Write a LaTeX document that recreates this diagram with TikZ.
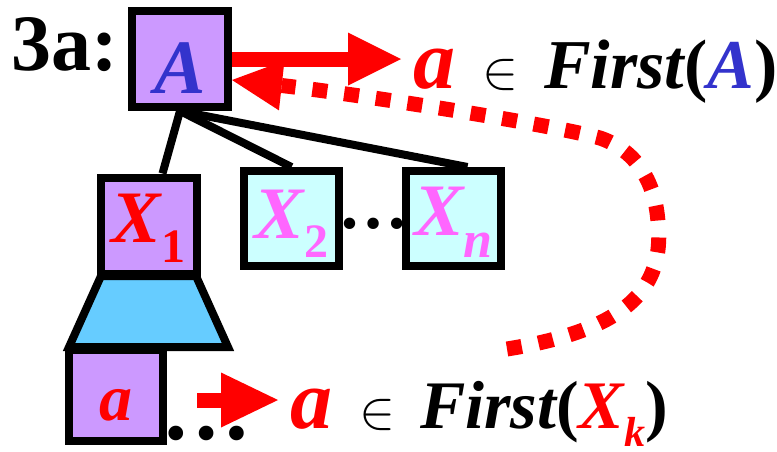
\documentclass[tikz,border=0pt]{standalone}
\usepackage{graphicx}
\usepackage{fontspec}
\setmainfont{Liberation Serif}
\usetikzlibrary{arrows.meta}
\definecolor{lav}{HTML}{CC99FF}
\definecolor{cyanl}{HTML}{CCFFFF}
\definecolor{trap}{HTML}{66CCFF}
\definecolor{blueA}{HTML}{3333CC}
\definecolor{mag}{HTML}{FF66FF}
\definecolor{redc}{HTML}{FF0000}
\newcommand{\fsz}[1]{\fontsize{#1}{#1}\selectfont}
\newcommand{\bi}{\bfseries\itshape}
\newcommand{\bigin}{\scalebox{5.4}{$\in$}}
\begin{document}
\begin{tikzpicture}[x=1pt,y=-1pt,
  box/.style={draw=black, line width=8pt, inner sep=0pt, minimum width=96pt, minimum height=96pt},
  edge/.style={line width=8pt},
  txt/.style={anchor=base west, inner sep=0pt, outer sep=0pt}]
\useasboundingbox (0,0) rectangle (777,451);
\node[txt, font=\bfseries\fsz{80}] (t3a) at (12,70) {3a:};
\draw[line width=8pt, fill=trap, line join=miter] (101,276) -- (196,276) -- (228,347) -- (69,347) -- cycle;
\node[box, fill=lav] (A) at (180,59) {\raisebox{-34pt}[0pt][0pt]{\color{blueA}\fsz{77}\bi A}};
\node[box, fill=lav] (X1) at (148.5,225.5) {\raisebox{-16.5pt}[0pt][0pt]{\color{redc}{\fsz{74}\bi X}\raisebox{-20pt}{\fsz{48}\bfseries 1}}};
\node[box, fill=cyanl, minimum width=95pt, minimum height=95pt] (X2) at (291.5,218.5) {\raisebox{-19.5pt}[0pt][0pt]{\color{mag}{\fsz{74}\bi X}\raisebox{-19pt}{\fsz{48}\bfseries 2}}};
\node[box, fill=cyanl, minimum width=95pt, minimum height=95pt] (Xn) at (453.5,218.5) {\raisebox{-17pt}[0pt][0pt]{\color{mag}{\fsz{74}\bi X}\raisebox{-22pt}{\fsz{52}\bi n}}};
\node[box, fill=lav, minimum width=94pt, minimum height=91pt] (a) at (116,395.5) {\raisebox{-24.5pt}[0pt][0pt]{\color{redc}\fsz{66}\bi a}};
\draw[edge] (A.south) -- ([xshift=14pt]X1.north);
\draw[edge] (A.south) -- (X2.north);
\draw[edge] (A.south) -- ([xshift=14pt]Xn.north);
\node[anchor=base, inner sep=0pt, font=\bfseries\fsz{70}] (d1) at (373,228) {…};
\node[anchor=base, inner sep=0pt, font=\bfseries\fsz{90}] (d2) at (206,439) {…};
\coordinate (t1) at (401,58);
\draw[redc, line width=15pt, -{Triangle[length=53pt,width=53pt,line width=0pt]}] (A.east) -- (A.east -| t1);
\coordinate (t2) at (278,400);
\draw[redc, line width=15pt, -{Triangle[length=57pt,width=55pt,line width=0pt]}] (197,400) -- (t2);
\node[txt] (f1) at (413,88) {{\color{redc}\fsz{84}\bi a}\hspace{27pt}\bigin\hspace{26pt}{\fsz{70}\bi First}{\fsz{70}\bfseries(}{\color{blueA}\fsz{70}\bi A}{\fsz{70}\bfseries)}};
\node[txt] (f2) at (290,428) {{\color{redc}\fsz{84}\bi a}\hspace{28pt}\bigin\hspace{24pt}{\fsz{68}\bi First}{\fsz{68}\bfseries(}{\color{redc}{\fsz{68}\bi X}\raisebox{-18pt}{\fsz{42}\bi k}}{\fsz{68}\bfseries)}};
\coordinate (c0) at (507,349);
\draw[redc, line width=15pt, dash pattern=on 15pt off 17pt, -{Triangle[length=50pt,width=50pt,line width=0pt]}]
  (c0) .. controls (625,330) and (665,290) .. (658,222)
       .. controls (655,180) and (635,150) .. (600,138)
       .. controls (540,122) and (340,92) .. ([yshift=-21pt]A.east);
\end{tikzpicture}
\end{document}
